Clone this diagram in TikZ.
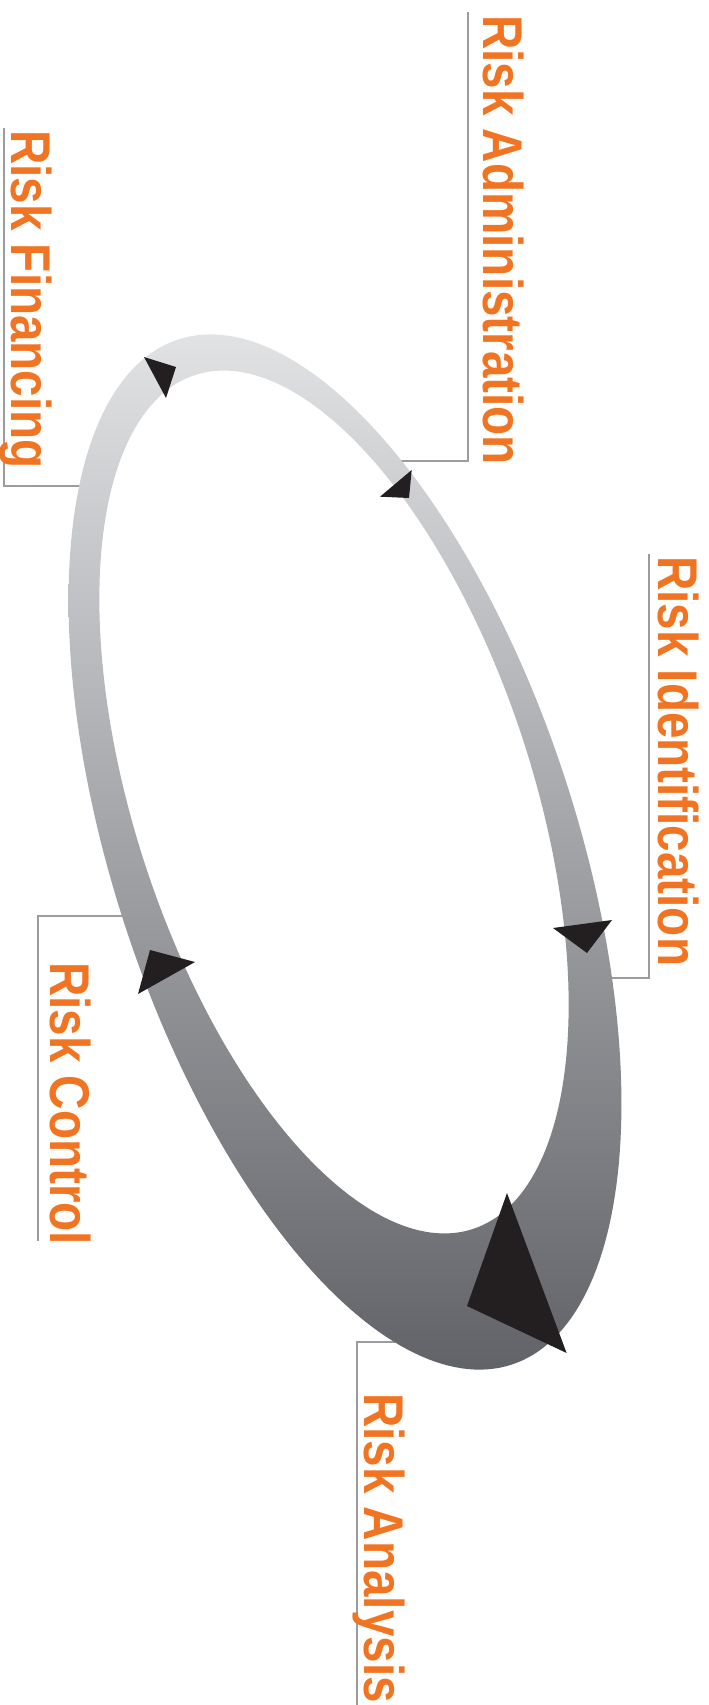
\documentclass[tikz,border=0pt]{standalone}
\usepackage{fontspec}
\newfontfamily\lblfont{Liberation Sans}[FakeStretch=0.85]
\definecolor{ringtop}{RGB}{225,226,228}
\definecolor{ringbot}{RGB}{98,99,104}
\definecolor{lbl}{RGB}{240,116,34}
\definecolor{conn}{RGB}{155,155,160}
\definecolor{tri}{RGB}{35,31,32}
\begin{document}
\begin{tikzpicture}[x=1pt,y=-1pt,
  lab/.style={rotate=-90, anchor=base west, inner sep=0pt, text=lbl,
              font=\lblfont\bfseries\fontsize{56}{60}\selectfont},
  conline/.style={draw=conn, line width=2pt},
  tip/.style={fill=tri}]
\useasboundingbox (0,0) rectangle (709,1705);
% connector end points
\coordinate (admR) at (400,461); \coordinate (admK) at (468,461); \coordinate (admE) at (468,12);
\coordinate (finR) at (85,486);  \coordinate (finK) at (4,486);   \coordinate (finE) at (4,128);
\coordinate (ideR) at (600,978); \coordinate (ideK) at (649,978); \coordinate (ideE) at (649,554);
\coordinate (conR) at (130,916); \coordinate (conK) at (38,916);  \coordinate (conE) at (38,1241);
\coordinate (anaR) at (395,1342);\coordinate (anaK) at (357,1342);\coordinate (anaE) at (357,1705);
\draw[conline] (admR) -- (admK) -- (admE);
\draw[conline] (finR) -- (finK) -- (finE);
\draw[conline] (ideR) -- (ideK) -- (ideE);
\draw[conline] (conR) -- (conK) -- (conE);
\draw[conline] (anaR) -- (anaK) -- (anaE);
% ring
\shade[top color=ringtop, bottom color=ringbot, even odd rule]
  plot[domain=0:360, samples=241, variable=\t]
    ({345 - 166.55*cos(\t) + 220.66*sin(\t)}, {852 - 512.64*cos(\t) - 71.69*sin(\t)}) -- cycle
  plot[domain=0:360, samples=241, variable=\t]
    ({334 - 138.74*cos(\t) + 189.27*sin(\t)}, {802 - 427.04*cos(\t) - 61.49*sin(\t)}) -- cycle;
% arrow heads
\coordinate (t1a) at (144,357); \coordinate (t1b) at (176,367); \coordinate (t1c) at (166,398);
\coordinate (t2a) at (411.7,470); \coordinate (t2b) at (380,496.7); \coordinate (t2c) at (409,498);
\coordinate (t3a) at (553,928); \coordinate (t3b) at (612,920); \coordinate (t3c) at (587,953);
\coordinate (t4a) at (150,950); \coordinate (t4b) at (195,962); \coordinate (t4c) at (138,994);
\coordinate (t5a) at (507,1193); \coordinate (t5b) at (467,1306); \coordinate (t5c) at (566.6,1353);
\fill[tip] (t1a) -- (t1b) -- (t1c) -- cycle;
\fill[tip] (t2a) -- (t2b) -- (t2c) -- cycle;
\fill[tip] (t3a) -- (t3b) -- (t3c) -- cycle;
\fill[tip] (t4a) -- (t4b) -- (t4c) -- cycle;
\fill[tip] (t5a) -- (t5b) -- (t5c) -- cycle;
% labels
\node[lab] (adm) at (483,15) {Risk Administration};
\node[lab] (fin) at (11,130) {Risk Financing};
\node[lab] (ide) at (658,556) {Risk Identification};
\node[lab] (con) at (50,962) {Risk Control};
\node[lab] (ana) at (364,1393) {Risk Analysis};
\end{tikzpicture}
\end{document}
